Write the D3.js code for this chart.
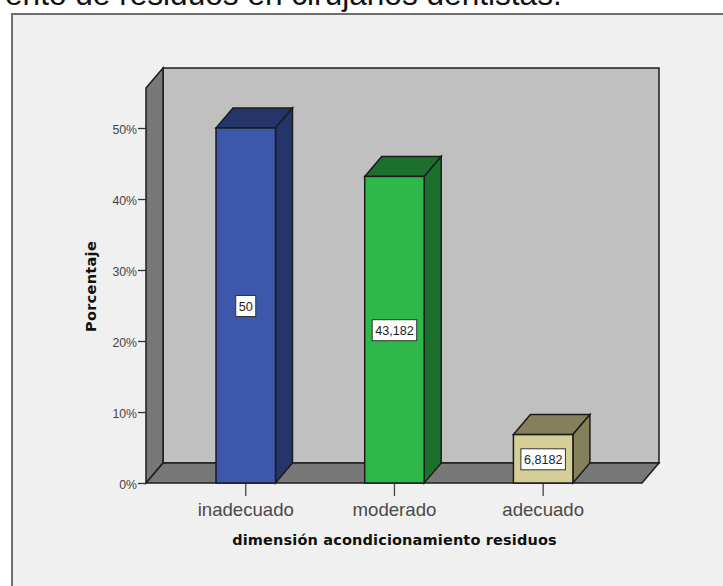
<!DOCTYPE html>
<html>
<head>
<meta charset="utf-8">
<script src="https://cdnjs.cloudflare.com/ajax/libs/d3/7.8.5/d3.min.js"></script>
<style>
html, body { margin: 0; padding: 0; background: #fff; overflow: hidden; }
svg { display: block; }
text { font-family: "Liberation Sans", Arial, sans-serif; }
</style>
</head>
<body>
<svg id="chart" width="723" height="586"></svg>
<script>
// Percentage of respondents per level of the waste-conditioning dimension
const categories = ["inadecuado", "moderado", "adecuado"];
const values = [50, 43.182, 6.8182];
const valueLabels = ["50", "43,182", "6,8182"];
const frontColors = ["#3d58aa", "#2eb84a", "#d4cf96"];
const sideColors = ["#25356a", "#1b702e", "#84805c"];
const yTicks = [0, 10, 20, 30, 40, 50];
const captionText = "ento de residuos en cirujanos dentistas.";
const xTitle = "dimensión acondicionamiento residuos";
const yTitle = "Porcentaje";

const svg = d3.select("#chart");

// Oblique projection: the back plane is shifted right and up from the front plane
const depthX = 17, depthY = 20;
const y = d3.scaleLinear().domain([0, 50]).range([483, 128]);
const yMaxValue = 55.63;
const x = d3.scaleBand().domain(categories).range([171.4, 617.5]).paddingInner(0.6).paddingOuter(0.3);
const left = 146, right = 642;
const base = y(0), wallTop = y(yMaxValue);
const stroke = "#1c1c1c";
const path = pts => "M" + pts.map(p => p.join(",")).join("L") + "Z";

svg.append("text").attr("x", 5).attr("y", 5)
  .attr("font-size", 31.6).attr("fill", "#111").text(captionText);

// Output frame, open to the right and bottom edges
svg.append("rect").attr("x", 12).attr("y", 14).attr("width", 740).attr("height", 600)
  .attr("fill", "#f0f0f0").attr("stroke", "#6e6e6e").attr("stroke-width", 2);

// Back wall, side wall and floor
svg.append("path")
  .attr("d", path([[left + depthX, wallTop - depthY], [right + depthX, wallTop - depthY], [right + depthX, base - depthY], [left + depthX, base - depthY]]))
  .attr("fill", "#c0c0c0").attr("stroke", stroke).attr("stroke-width", 1.5);
svg.append("path")
  .attr("d", path([[left, wallTop], [left + depthX, wallTop - depthY], [left + depthX, base - depthY], [left, base]]))
  .attr("fill", "#787878").attr("stroke", stroke).attr("stroke-width", 1.5);
svg.append("path")
  .attr("d", path([[left, base], [left + depthX, base - depthY], [right + depthX, base - depthY], [right, base]]))
  .attr("fill", "#787878").attr("stroke", stroke).attr("stroke-width", 1.5);

// Value axis
const yAxis = svg.append("g").attr("transform", `translate(${left},0)`)
  .call(d3.axisLeft(y).tickValues(yTicks).tickFormat(d => d + "%").tickSize(8).tickPadding(1));
yAxis.select(".domain").remove();
yAxis.selectAll("line").attr("stroke", "#333").attr("stroke-width", 1.3);
yAxis.selectAll("text").attr("font-size", 12.3).attr("fill", "#444").attr("y", 1.5)
  .style("font-family", '"Liberation Sans", Arial, sans-serif');

// Category axis
const xAxis = svg.append("g").attr("transform", `translate(0,${base})`)
  .call(d3.axisBottom(x).tickSize(13).tickPadding(7));
xAxis.select(".domain").remove();
xAxis.selectAll("line").attr("stroke", "#444").attr("stroke-width", 1.3);
xAxis.selectAll("text").attr("font-size", 18.6).attr("fill", "#4a4a4a")
  .style("font-family", '"Liberation Sans", Arial, sans-serif');

// Bars as three faces each
const bars = svg.selectAll("g.bar").data(categories).join("g").attr("class", "bar");
bars.each(function (c, i) {
  const g = d3.select(this);
  const x0 = x(c), x1 = x0 + x.bandwidth(), yT = y(values[i]);
  g.append("path")
    .attr("d", path([[x0, yT], [x0 + depthX, yT - depthY], [x1 + depthX, yT - depthY], [x1, yT]]))
    .attr("fill", sideColors[i]).attr("stroke", stroke).attr("stroke-width", 1.5);
  g.append("path")
    .attr("d", path([[x1, yT], [x1 + depthX, yT - depthY], [x1 + depthX, base - depthY], [x1, base]]))
    .attr("fill", sideColors[i]).attr("stroke", stroke).attr("stroke-width", 1.5);
  g.append("rect").attr("x", x0).attr("y", yT).attr("width", x.bandwidth()).attr("height", base - yT)
    .attr("fill", frontColors[i]).attr("stroke", stroke).attr("stroke-width", 1.5);

  // Value label box centred on the front face
  const cx = (x0 + x1) / 2, cy = (yT + base) / 2 + 0.5;
  const label = g.append("text").attr("x", cx).attr("y", cy + 4.5)
    .attr("text-anchor", "middle").attr("font-size", 12.6).attr("fill", "#222").text(valueLabels[i]);
  const w = label.node().getComputedTextLength() + 6;
  g.insert("rect", "text").attr("x", cx - w / 2).attr("y", cy - 10.5).attr("width", w).attr("height", 21)
    .attr("fill", "#fff").attr("stroke", "#333").attr("stroke-width", 1);
});

// Axis titles
svg.append("text").attr("x", 394.5).attr("y", 545).attr("text-anchor", "middle")
  .style("font-family", '"DejaVu Sans", sans-serif')
  .attr("font-size", 14.5).attr("font-weight", "bold").attr("letter-spacing", 0.15).attr("fill", "#111").text(xTitle);
svg.append("text").attr("transform", "translate(96,286.5) rotate(-90)").attr("text-anchor", "middle")
  .style("font-family", '"DejaVu Sans", sans-serif')
  .attr("font-size", 14.5).attr("font-weight", "bold").attr("letter-spacing", 0.3).attr("fill", "#111").text(yTitle);
</script>
</body>
</html>
